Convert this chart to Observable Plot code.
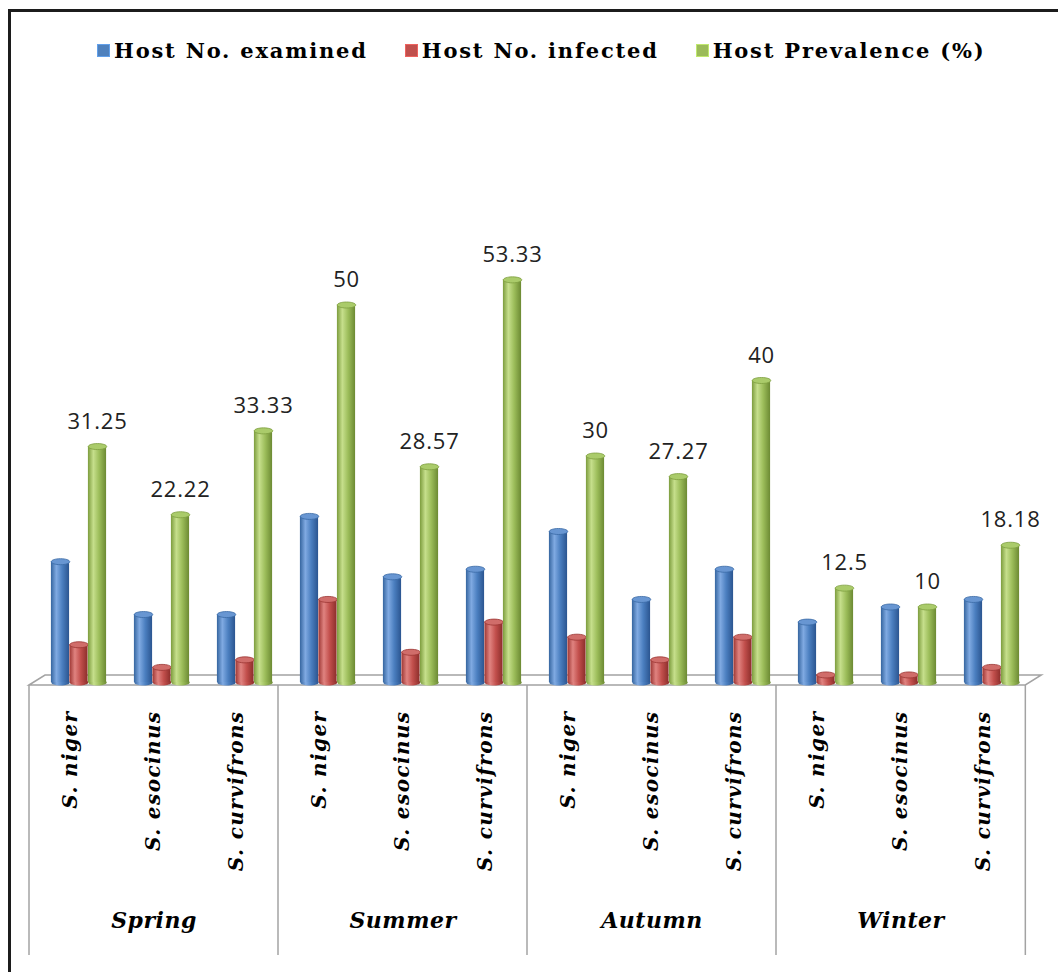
<!DOCTYPE html>
<html>
<head>
<meta charset="utf-8">
<script src="https://cdn.jsdelivr.net/npm/d3@7"></script>
<script src="https://cdn.jsdelivr.net/npm/@observablehq/plot@0.6"></script>
<style>
  body { margin: 0; background: #fff; }
  #chart { position: relative; width: 1058px; height: 972px; overflow: hidden; background: #fff; }
  #frame { position: absolute; left: 8px; top: 9px; width: 1100px; height: 1000px;
           border-top: 3px solid #1c1c1c; border-left: 3px solid #1c1c1c; pointer-events: none; }
  #legend { position: absolute; left: 97px; top: 36px; height: 28px; display: flex; align-items: center;
            font-family: "DejaVu Serif", serif; font-weight: bold; font-size: 21px; letter-spacing: 1.8px; color: #000; }
  .item { display: flex; align-items: center; margin-right: 37px; white-space: nowrap; }
  .swatch { width: 13px; height: 13px; margin-right: 4px; box-sizing: border-box; }
  #plot { position: absolute; left: 0; top: 80px; }
  #plot g[aria-label="x-axis tick label"] { letter-spacing: 1.4px; }
  #plot g.season-label { letter-spacing: 0.5px; }
  #plot g.value-label { letter-spacing: 0.8px; }
</style>
</head>
<body>
<div id="chart">
  <div id="legend"></div>
  <div id="plot"></div>
  <div id="frame"></div>
</div>
<script>
// Seasonal host data for three Schizothorax species
const seasons = ["Spring", "Summer", "Autumn", "Winter"];
const species = ["S. niger", "S. esocinus", "S. curvifrons"];
const examined   = [16, 9, 9, 22, 14, 15, 20, 11, 15, 8, 10, 11];
const infected   = [5, 2, 3, 11, 4, 8, 6, 3, 6, 1, 1, 2];
const prevalence = [31.25, 22.22, 33.33, 50, 28.57, 53.33, 30, 27.27, 40, 12.5, 10, 18.18];
const seriesNames = ["Host No. examined", "Host No. infected", "Host Prevalence (%)"];
const seriesColors = ["#4f81bd", "#c0504d", "#9bbb59"];

// cylinder shading: [left edge, highlight, body, right edge], cap fill, cap outline
const shades = [
  ["#35659f", "#80aae2", "#4b7fc0", "#2b5590", "#6896d2", "#3a69a5"],
  ["#9d3633", "#e08380", "#c24f4c", "#8c2e2b", "#d06d6a", "#9b3532"],
  ["#7c9c3d", "#c6df8c", "#9cbd5a", "#6c8a33", "#aacb6a", "#7d9e40"]
];

// legend
const legend = d3.select("#legend");
seriesNames.forEach((name, k) => {
  const it = legend.append("div").attr("class", "item");
  it.append("div").attr("class", "swatch")
    .style("background", seriesColors[k])
    .style("border", `1px solid ${d3.color(seriesColors[k]).brighter(0.6)}`);
  it.append("span").text(name);
});

const slots = seasons.flatMap(s => species.map(p => `${s}|${p}`));
const seriesValues = [examined, infected, prevalence];
const rows = seriesValues.map((vals, k) => slots.map((slot, i) => ({slot, value: vals[i], k})));

const width = 1058, height = 892;
const marginLeft = 27, marginRight = 31, marginTop = 149, marginBottom = 290;
const bw = (width - marginLeft - marginRight) / slots.length;
const barW = 18.5, step = 18.5, shift = 8;
const offset = k => shift + (k - 1) * step;
const insetL = k => bw / 2 + offset(k) - barW / 2;
const insetR = k => bw - insetL(k) - barW;

// elliptical symbol for cylinder caps and bases
const ellipse = (rx, ry) => ({
  draw(ctx) {
    const c = 0.5523;
    ctx.moveTo(rx, 0);
    ctx.bezierCurveTo(rx, ry * c, rx * c, ry, 0, ry);
    ctx.bezierCurveTo(-rx * c, ry, -rx, ry * c, -rx, 0);
    ctx.bezierCurveTo(-rx, -ry * c, -rx * c, -ry, 0, -ry);
    ctx.bezierCurveTo(rx * c, -ry, rx, -ry * c, rx, 0);
    ctx.closePath();
  }
});

// gradient definitions for the cylinder bodies
const defs = () => {
  const g = d3.create("svg:g");
  const d = g.append("defs");
  shades.forEach((s, k) => {
    const lg = d.append("linearGradient").attr("id", `cyl-${k}`)
      .attr("x1", 0).attr("x2", 1).attr("y1", 0).attr("y2", 0);
    [[0, s[0]], [0.3, s[1]], [0.62, s[2]], [1, s[3]]]
      .forEach(([o, c]) => lg.append("stop").attr("offset", o).attr("stop-color", c));
  });
  return g.node();
};

// 3D floor and the category table beneath it
const floor = (index, scales) => {
  const x = scales.x, y = scales.y;
  const left = x(slots[0]);
  const right = x(slots[slots.length - 1]) + bw;
  const y0 = y(0);
  const front = y0 + 3, back = y0 - 7, depth = 16;
  const g = d3.create("svg:g").attr("fill", "none").attr("stroke", "#a3a3a3").attr("stroke-width", 1.5);
  g.append("path").attr("fill", "#fff")
    .attr("d", `M${left},${front}L${left + depth},${back}L${right + depth},${back}L${right},${front}Z`);
  const xs = seasons.map(s => x(`${s}|${species[0]}`)).concat([right]);
  xs.forEach(px => g.append("line").attr("x1", px).attr("x2", px).attr("y1", front).attr("y2", y0 + 273));
  return g.node();
};

const marks = [defs, floor];
rows.forEach((data, k) => {
  marks.push(
    Plot.dot(data, {x: "slot", y: () => 0, dx: offset(k), symbol: ellipse(barW / 2, 3), fill: `url(#cyl-${k})`, stroke: "none"}),
    Plot.barY(data, {x: "slot", y: "value", fill: `url(#cyl-${k})`, insetLeft: insetL(k), insetRight: insetR(k)}),
    Plot.dot(data, {x: "slot", y: "value", dx: offset(k), symbol: ellipse(barW / 2, 3), fill: shades[k][4], stroke: shades[k][5], strokeWidth: 0.8})
  );
});
marks.push(
  Plot.text(rows[2], {x: "slot", y: "value", text: d => String(d.value), dx: offset(2), dy: -25,
    fontSize: 22, fontFamily: "'Open Sans', sans-serif", fill: "#222", className: "value-label"}),
  Plot.axisX({tickRotate: -90, tickSize: 0, tickPadding: 28, label: null,
    tickFormat: d => d.split("|")[1],
    fontSize: 20, fontFamily: "'DejaVu Serif', serif", fontStyle: "italic", fontWeight: "bold", fill: "#000"}),
  Plot.text(seasons, {x: s => `${s}|${species[1]}`, frameAnchor: "bottom", dy: 245, text: d => d,
    fontSize: 22, fontFamily: "'DejaVu Serif', serif", fontStyle: "italic", fontWeight: "bold", fill: "#000",
    className: "season-label"})
);

const chart = Plot.plot({
  width, height, marginLeft, marginRight, marginTop, marginBottom,
  style: {background: "transparent", color: "#000", overflow: "visible"},
  x: {domain: slots, padding: 0, axis: null},
  y: {domain: [0, 60], axis: null},
  marks
});
document.getElementById("plot").appendChild(chart);
</script>
</body>
</html>
